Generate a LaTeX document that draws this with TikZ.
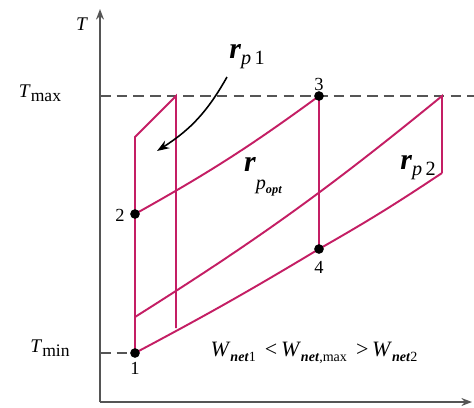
\documentclass[tikz,border=0pt]{standalone}
\usepackage{fontspec}
\setmainfont{Liberation Serif}
\usetikzlibrary{arrows.meta}
\definecolor{cyc}{RGB}{196,30,100}
\definecolor{axc}{RGB}{85,85,85}
\newcommand{\lowsub}[2]{\raisebox{-0.45ex}{\fontsize{#1}{#1}\selectfont #2}}
\begin{document}
\begin{tikzpicture}[x=0.02cm,y=-0.02cm,
  cycle/.style={draw=cyc,line width=1.1pt,line join=miter},
  axis/.style={draw=axc,line width=1.1pt,-{Stealth[length=6pt,width=4.5pt]}},
  guide/.style={draw=axc,line width=0.8pt,dash pattern=on 6pt off 3.5pt},
  pt/.style={circle,fill=black,inner sep=0pt,minimum size=5.5pt},
  lab/.style={inner sep=0pt,font=\fontsize{10.5}{10.5}\selectfont}]
\useasboundingbox (0,0) rectangle (474,407);
% axes
\coordinate (O) at (100,402);
\coordinate (Ytop) at (100,9);
\coordinate (Xend) at (472,402);
\draw[axis] (O) -- (Ytop);
\draw[axis] (O) -- (Xend);
% guide lines
\coordinate (gmax0) at (100,96);
\coordinate (gmax1) at (474,96);
\coordinate (gmin0) at (100,353);
\draw[guide] (gmax0) -- (gmax1);
% cycle points
\coordinate (p1) at (135,353);
\coordinate (p2) at (135,214);
\coordinate (p3) at (319,96);
\coordinate (p4) at (319,249);
\coordinate (a) at (135,137);
\coordinate (b) at (176,96);
\coordinate (c) at (176,328);
\coordinate (d) at (135,317);
\coordinate (e) at (442,96);
\coordinate (f) at (442,173);
\draw[guide] (gmin0) -- (p1);
% cycles
\draw[cycle] (p1) -- (a) -- (b) -- (c);
\draw[cycle] (p2) to[bend right=3.5] (p3) -- (p4);
\draw[cycle] (d) to[bend right=3.5] (e) -- (f);
\draw[cycle] (p1) to[bend right=1.5] (p4) to[bend right=2] (f);
% dots
\node[pt] (n1) at (p1) {};
\node[pt] (n2) at (p2) {};
\node[pt] (n3) at (p3) {};
\node[pt] (n4) at (p4) {};
% point labels
\node[lab] (l1) at (135,368) {1};
\node[lab] (l2) at (120,215) {2};
\node[lab] (l3) at (319,84) {3};
\node[lab] (l4) at (319,267) {4};
% axis labels
\node[inner sep=0pt] (lT) at (82,24) {\fontsize{11}{11}\selectfont\textit{T}};
\node[inner sep=0pt] (lTmax) at (40,93) {\fontsize{11}{11}\selectfont\textit{T}\lowsub{10}{max}};
\node[inner sep=0pt] (lTmin) at (50,348) {\fontsize{11}{11}\selectfont\textit{T}\lowsub{10}{min}};
% pressure ratio labels
\node[inner sep=0pt] (rp1) at (247,57) {\fontsize{17}{17}\selectfont\textbf{\textit{r}}\lowsub{11.5}{\textit{p}\,1}};
\coordinate (arrS) at (227,77);
\coordinate (arrE) at (157,151);
\draw[draw=black,line width=0.9pt,-{Stealth[length=7pt,width=5pt]}] (arrS) to[bend left=14] (arrE);
\node[inner sep=0pt] (rpopt) at (263,177) {\fontsize{17}{17}\selectfont\textbf{\textit{r}}\raisebox{-1.3ex}{\fontsize{11.5}{11.5}\selectfont\textit{p}\raisebox{-0.4ex}{\fontsize{7}{7}\selectfont\textbf{\textit{opt}}}}};
\node[inner sep=0pt] (rp2) at (418,168) {\fontsize{17}{17}\selectfont\textbf{\textit{r}}\lowsub{11.5}{\textit{p}\,2}};
% work relation
\node[inner sep=0pt] (wrel) at (314,353) {\fontsize{12.5}{12.5}\selectfont\textit{W}\lowsub{8}{\textbf{\textit{net}}1}\ \,<\,\textit{W}\lowsub{8}{\textbf{\textit{net}},max}\ \,>\,\textit{W}\lowsub{8}{\textbf{\textit{net}}2}};
\end{tikzpicture}
\end{document}
